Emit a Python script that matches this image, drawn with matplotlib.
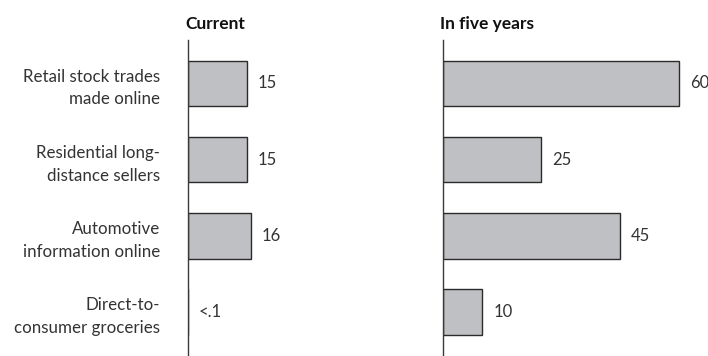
import matplotlib.pyplot as plt

categories = ["Retail stock trades\nmade online",
              "Residential long-\ndistance sellers",
              "Automotive\ninformation online",
              "Direct-to-\nconsumer groceries"]
current = [15, 15, 16, 0]
current_labels = ["15", "15", "16", "<.1"]
future = [60, 25, 45, 10]
future_labels = ["60", "25", "45", "10"]
titles = ["Current", "In five years"]

plt.rcParams['font.family'] = ['Lato', 'DejaVu Sans']
text_color = "#333333"
bar_color = "#bfc0c3"
edge_color = "#2b2b2b"

W, H = 708, 356
fig = plt.figure(figsize=(W / 100, H / 100), dpi=100)

px_per_unit = 3.93
y = list(range(len(categories)))

# axes placed in pixels: (left, right)
spans = [(188, 410), (443, 705)]
top, bottom = 40, 356

axes = []
for (l, r) in spans:
    ax = fig.add_axes([l / W, 1 - bottom / H, (r - l) / W, (bottom - top) / H])
    ax.set_xlim(0, (r - l) / px_per_unit)
    ax.set_ylim(3.58, -0.57)
    for s in ["top", "right", "bottom"]:
        ax.spines[s].set_visible(False)
    ax.spines["left"].set_color("#3a3a3a")
    ax.spines["left"].set_linewidth(1.0)
    ax.set_xticks([])
    axes.append(ax)

for ax, vals, labs, title in zip(axes, [current, future],
                                 [current_labels, future_labels], titles):
    ax.barh(y, vals, height=0.6, color=bar_color, edgecolor=edge_color,
            linewidth=1.0)
    for yi, v, lab in zip(y, vals, labs):
        ax.annotate(lab, (v, yi), xytext=(8, 0), textcoords="offset points",
                    ha="left", va="center", fontsize=12, color=text_color)
    ax.text(-0.012, 1.05, title, transform=ax.transAxes, ha="left",
            va="center", fontsize=12.5, fontweight="bold", color="#111111")

axes[0].set_yticks(y)
axes[0].set_yticklabels(categories, fontsize=12.2, color=text_color,
                        linespacing=1.5, ha="right", multialignment="right")
axes[0].tick_params(axis="y", length=0, pad=20)
axes[1].set_yticks([])

fig.savefig("out.png", dpi=100, facecolor="white")
